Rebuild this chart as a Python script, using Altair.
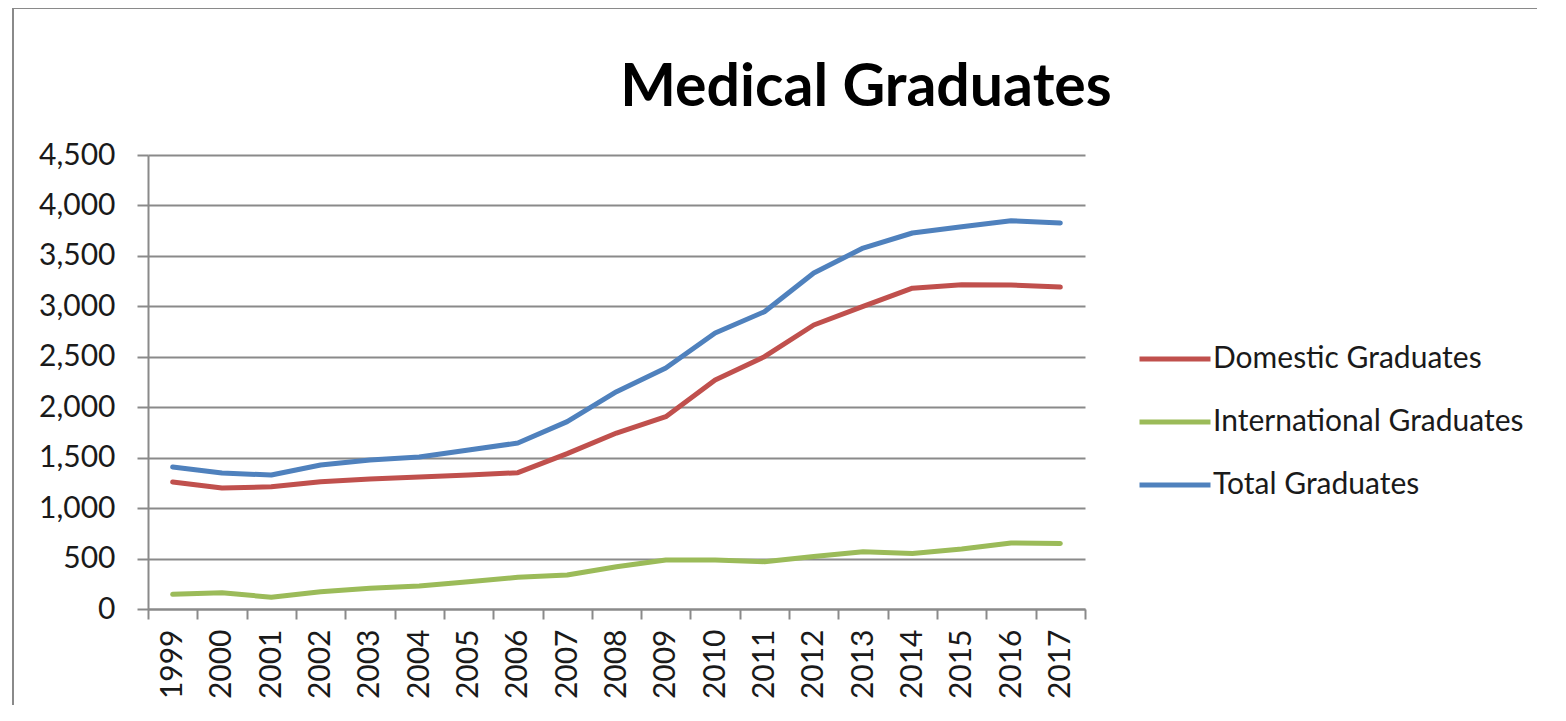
import altair as alt
import pandas as pd

years = [str(y) for y in range(1999, 2018)]
domestic = [1259, 1199, 1212, 1262, 1288, 1308, 1328, 1351, 1540, 1744, 1906, 2270, 2501, 2815, 3000, 3180, 3215, 3211, 3191]
international = [145, 162, 116, 172, 205, 228, 270, 314, 337, 419, 486, 486, 469, 520, 568, 550, 594, 654, 650]
total = [1407, 1348, 1328, 1427, 1477, 1507, 1576, 1645, 1857, 2154, 2389, 2735, 2947, 3330, 3578, 3727, 3789, 3849, 3826]
series_names = ["Domestic Graduates", "International Graduates", "Total Graduates"]
series_colors = ["#C0504D", "#9BBB59", "#4F81BD"]
title_text = "Medical Graduates"

rows = []
for name, vals in zip(series_names, [domestic, international, total]):
    for y, v in zip(years, vals):
        rows.append({"year": y, "value": v, "series": name})
df = pd.DataFrame(rows)

FONT = "Lato"
GRID = "#8a8a8a"

lines = alt.Chart(df).mark_line(strokeWidth=5, strokeCap="round", strokeJoin="round").encode(
    x=alt.X("year:O", title=None, bandPosition=0.5,
            scale=alt.Scale(type="band", paddingInner=0, paddingOuter=0),
            axis=alt.Axis(labelAngle=270, tickBand="extent", tickSize=10, tickColor=GRID, tickWidth=2,
                          domainColor=GRID, domainWidth=2, labelFont=FONT, labelFontSize=30,
                          labelColor="#1a1a1a", labelPadding=10, grid=False)),
    y=alt.Y("value:Q", title=None,
            scale=alt.Scale(domain=[0, 4500], nice=False),
            axis=alt.Axis(values=list(range(0, 4501, 500)), format=",.0f", tickSize=11, tickColor=GRID,
                          tickWidth=2, domainColor=GRID, domainWidth=2, gridColor=GRID, gridWidth=2,
                          gridOpacity=1, labelFont=FONT, labelFontSize=30, labelColor="#1a1a1a",
                          labelPadding=22)),
    color=alt.Color("series:N", sort=series_names,
                    scale=alt.Scale(domain=series_names, range=series_colors),
                    legend=alt.Legend(orient="none", legendX=989, legendY=166, title=None,
                                      symbolType="stroke", symbolStrokeWidth=5, symbolSize=5041,
                                      labelFont=FONT, labelFontSize=30, labelColor="#1a1a1a",
                                      labelLimit=0, labelOffset=0, rowPadding=10, padding=0)),
    order=alt.Order("series:N"),
)

frame_df = pd.DataFrame({"k": [0]})
frame_left = alt.Chart(frame_df).mark_rule(stroke="#8a8a8a", strokeWidth=2).encode(
    x=alt.value(-135), y=alt.value(-147), y2=alt.value(560)
)
frame_top = alt.Chart(frame_df).mark_rule(stroke="#8a8a8a", strokeWidth=2).encode(
    x=alt.value(-135), x2=alt.value(1600), y=alt.value(-147)
)

title = alt.Chart(pd.DataFrame({"t": [title_text]})).mark_text(
    font=FONT, fontSize=59, fontWeight="bold", align="center", baseline="middle", color="#000000"
).encode(x=alt.value(718), y=alt.value(-67), text="t:N")

chart = alt.layer(frame_left, frame_top, lines, title).properties(
    width=937, height=454,
    padding={"left": 140, "top": 147, "right": 452, "bottom": 96},
    autosize=alt.AutoSizeParams(type="none"),
).configure_view(stroke=None)

chart.save("out.html", embed_options={"renderer": "svg", "actions": False})
